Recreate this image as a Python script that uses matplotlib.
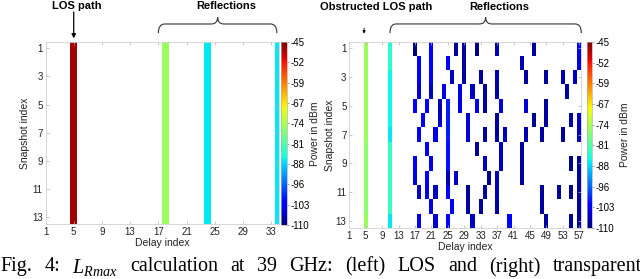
import numpy as np
import matplotlib
matplotlib.use("Agg")
import matplotlib.pyplot as plt
from matplotlib.path import Path
from matplotlib.patches import PathPatch
import matplotlib.transforms as mtransforms

plt.rcParams['font.family'] = ['Liberation Sans', 'DejaVu Sans']
plt.rcParams['mathtext.fontset'] = 'custom'
plt.rcParams['mathtext.it'] = 'Liberation Serif:italic'
plt.rcParams['mathtext.rm'] = 'Liberation Serif'

# ---------------- dati ----------------
n_snap = 13
n_delay_los = 34
n_delay_olos = 57

# sinistra: LOS
los_delay = 5
los_power = -47
refl_delays_los = [18, 24, 34]
refl_powers_los = [-75, -87, -87]

# destra: LOS ostruito
olos_delay = 5
olos_power = [-75, -75, -75, -75, -75, -75, -75, -76, -76, -76, -76, -76, -75]
first_refl_delay = 11
first_refl_power = [-84, -84, -86, -86, -86, -86, -87, -83, -83, -83, -83, -83, -87]

refl_delays_olos = [
    [17, 21, 27, 29, 32, 37, 46, 57],
    [18, 21, 25, 29, 43, 57],
    [18, 21, 26, 29, 33, 37, 44, 49, 53, 56],
    [18, 21, 24, 28, 31, 34, 37, 54],
    [17, 20, 23, 25, 28, 32, 34, 38, 44, 49],
    [19, 23, 25, 30, 37, 46, 49, 55, 57],
    [18, 22, 25, 30, 34, 37, 39, 44, 48, 53, 57],
    [20, 25, 32, 38, 43],
    [17, 21, 25, 34, 38, 43, 55, 57],
    [17, 20, 25, 27, 35, 37, 43, 57],
    [18, 20, 22, 25, 30, 34, 37, 48, 52, 55, 57],
    [21, 26, 30, 33, 37, 48, 57],
    [18, 22, 25, 31, 40, 49, 55, 57],
]
refl_powers_olos = [
    [-110, -102, -108, -108, -110, -107, -108, -103],
    [-102, -102, -103, -108, -107, -104],
    [-102, -103, -106, -108, -108, -107, -108, -108, -107, -106],
    [-105, -106, -104, -104, -106, -108, -108, -108],
    [-103, -103, -107, -100, -104, -104, -108, -105, -105, -108],
    [-102, -106, -100, -105, -108, -108, -108, -107, -106],
    [-103, -104, -100, -105, -108, -108, -106, -107, -108, -108, -106],
    [-103, -101, -108, -106, -108],
    [-103, -104, -101, -106, -106, -108, -109, -108],
    [-104, -103, -107, -106, -109, -107, -108, -108],
    [-106, -104, -106, -102, -108, -108, -107, -108, -108, -109, -108],
    [-104, -102, -108, -108, -108, -108, -108],
    [-104, -105, -102, -106, -103, -108, -108, -108],
]

pmin, pmax = -110, -45
cbar_labels = ['-110', '-103', '-96', '-88', '-81', '-74', '-67', '-59', '-52', '-45']

caption_words = ['Fig.', '4:', r'$L_{Rmax}$', 'calculation', 'at', '39', 'GHz:',
                 '(left)', 'LOS', 'and', '(right)', 'transparent']

# matrici potenza (NaN = vuoto)
M_los = np.full((n_snap, n_delay_los), np.nan)
M_los[:, los_delay - 1] = los_power
for d, p in zip(refl_delays_los, refl_powers_los):
    M_los[:, d - 1] = p

M_olos = np.full((n_snap, n_delay_olos), np.nan)
M_olos[:, olos_delay - 1] = olos_power
M_olos[:, first_refl_delay - 1] = first_refl_power
for r in range(n_snap):
    for d, p in zip(refl_delays_olos[r], refl_powers_olos[r]):
        M_olos[r, d - 1] = p

W, H = 640, 279
fig = plt.figure(figsize=(W / 100, H / 100), dpi=100)


def px_axes(x0, y0, x1, y1):
    return fig.add_axes([x0 / W, 1 - y1 / H, (x1 - x0) / W, (y1 - y0) / H])


def heatmap(ax, cax, M, xmax, xticks, ylab_x, cblab_x):
    nr, nc = M.shape
    xe = np.arange(nc + 1) + 0.5
    ye = np.arange(nr + 1) + 0.5
    mesh = ax.pcolormesh(xe, ye, np.ma.masked_invalid(M), cmap='jet',
                         vmin=pmin, vmax=pmax, shading='flat')
    ax.set_xlim(1, xmax)
    ax.set_ylim(13.5, 0.55)
    ax.set_xticks(xticks)
    ax.set_yticks(np.arange(1, 14, 2))
    ax.tick_params(direction='in', length=2, width=0.5, color='#b0b0b0',
                   labelsize=7, pad=2, top=True, right=True, labelcolor='#222222')
    for s in ax.spines.values():
        s.set_color('#d0d0d0')
        s.set_linewidth(0.6)
    ax.set_xlabel('Delay index', fontsize=7.5, labelpad=1, color='#222222')
    ax.set_ylabel('Snapshot index', fontsize=7.5, color='#222222')
    ax.yaxis.set_label_coords(ylab_x, 0.5)
    cb = fig.colorbar(mesh, cax=cax)
    cb.set_ticks(np.linspace(pmin, pmax, 10))
    cb.set_ticklabels(cbar_labels)
    cb.ax.tick_params(labelsize=7, length=1.5, width=0.5, pad=1, color='#777777')
    cb.outline.set_edgecolor('#b0b0b0')
    cb.outline.set_linewidth(0.5)
    cb.set_label('Power in dBm', fontsize=7.5, color='#222222')
    cax.yaxis.set_label_coords(cblab_x, 0.5)
    return mesh


def brace(ax, xa, xb, y_low, y_mid, y_peak, r):
    tr = mtransforms.blended_transform_factory(ax.transData, ax.transAxes)
    xc = 0.5 * (xa + xb)
    verts = [(xa, y_low), (xa, y_mid), (xa + r, y_mid),
             (xc - r, y_mid), (xc, y_mid), (xc, y_peak),
             (xc, y_mid), (xc + r, y_mid),
             (xb - r, y_mid), (xb, y_mid), (xb, y_low)]
    codes = [Path.MOVETO, Path.CURVE3, Path.CURVE3,
             Path.LINETO, Path.CURVE3, Path.CURVE3,
             Path.CURVE3, Path.CURVE3,
             Path.LINETO, Path.CURVE3, Path.CURVE3]
    ax.add_patch(PathPatch(Path(verts, codes), transform=tr, fill=False,
                           edgecolor='#333333', linewidth=0.8, clip_on=False))


# ---- sinistra ----
axL = px_axes(45.5, 42, 279, 224)
caxL = px_axes(281, 42, 287, 225)
heatmap(axL, caxL, M_los, 34.1, np.arange(1, 34, 4), -0.066, 4.8)
trL = mtransforms.blended_transform_factory(axL.transData, axL.transAxes)
axL.annotate('', xy=(los_delay, 1.02), xytext=(los_delay, 1.165),
             xycoords=trL, textcoords=trL,
             arrowprops=dict(arrowstyle='-|>', color='black', lw=0.9,
                             mutation_scale=6, shrinkA=0, shrinkB=0))
axL.text(5.5, 1.20, 'LOS path', transform=trL, ha='center', va='center',
         fontsize=8, fontweight='bold')
brace(axL, 17.0, 33.8, 1.049, 1.099, 1.137, 0.9)
axL.text(26.6, 1.20, 'Reflections', transform=trL, ha='center', va='center',
         fontsize=8, fontweight='bold')

# ---- destra ----
axR = px_axes(349.3, 42, 580.5, 228)
caxR = px_axes(586.7, 42, 592.3, 228)
heatmap(axR, caxR, M_olos, 57.3, np.arange(1, 58, 4), -0.062, 5.9)
trR = mtransforms.blended_transform_factory(axR.transData, axR.transAxes)
axR.annotate('', xy=(4.6, 1.045), xytext=(4.6, 1.075),
             xycoords=trR, textcoords=trR,
             arrowprops=dict(arrowstyle='-|>', color='black', lw=0.6,
                             mutation_scale=4, shrinkA=0, shrinkB=0))
axR.text(7.5, 1.19, 'Obstructed LOS path', transform=trR, ha='center', va='center',
         fontsize=8, fontweight='bold')
brace(axR, 10.9, 57.5, 1.048, 1.097, 1.134, 1.5)
axR.text(37.5, 1.19, 'Reflections', transform=trR, ha='center', va='center',
         fontsize=8, fontweight='bold')

# ---- didascalia giustificata (tagliata in basso) ----
renderer = fig.canvas.get_renderer()
cap = [fig.text(0, 1 - 257 / H, w, ha='left', va='top', fontsize=14.5,
                family=['Liberation Serif', 'DejaVu Serif']) for w in caption_words]
widths = [t.get_window_extent(renderer).width for t in cap]
gap = (642 - sum(widths)) / (len(cap) - 1)
xp = 0.0
for t, wd in zip(cap, widths):
    t.set_x(xp / W)
    xp += wd + gap

fig.savefig('out.png', dpi=100)
